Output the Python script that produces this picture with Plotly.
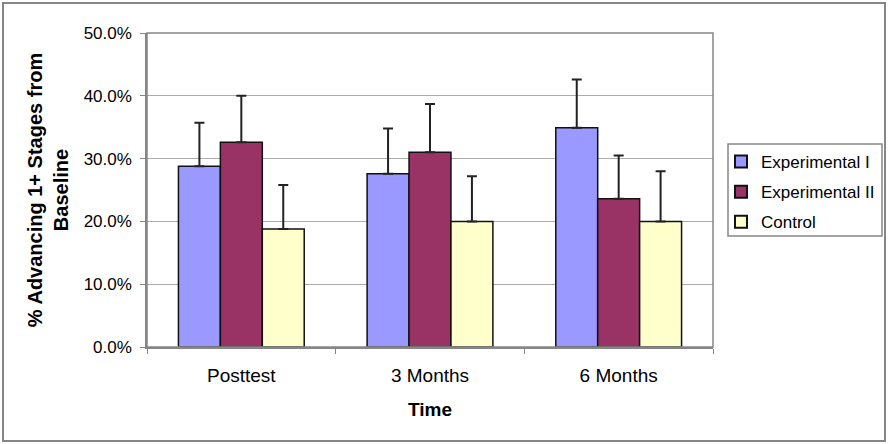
import plotly.graph_objects as go

categories = ["Posttest", "3 Months", "6 Months"]
series_names = ["Experimental I", "Experimental II", "Control"]
exp1_values = [0.288, 0.276, 0.349]
exp2_values = [0.326, 0.310, 0.236]
control_values = [0.188, 0.200, 0.200]
exp1_err = [0.069, 0.072, 0.077]
exp2_err = [0.074, 0.077, 0.069]
control_err = [0.070, 0.072, 0.080]
colors = ["#9999FF", "#993366", "#FFFFCC"]
y_ticks = [0.0, 0.1, 0.2, 0.3, 0.4, 0.5]

W, H = 888, 444
L, R, T, B = 147, 175, 33, 97
pw, ph = W - L - R, H - T - B

FONT = "Liberation Sans, Arial, sans-serif"


def px_x(x):
    return (x - L) / pw


def px_y(y):
    return (H - B - y) / ph


fig = go.Figure()
for name, vals, errs, col in zip(series_names,
                                 [exp1_values, exp2_values, control_values],
                                 [exp1_err, exp2_err, control_err], colors):
    fig.add_trace(go.Bar(
        name=name, x=categories, y=vals, legendgroup=name,
        marker=dict(color=col, line=dict(color="#111111", width=1.5)),
        error_y=dict(type="data", symmetric=False, array=errs,
                     arrayminus=[0] * len(errs), color="#222222",
                     thickness=2, width=5),
    ))

gray = "#868686"
fig.update_layout(
    width=W, height=H,
    margin=dict(l=L, r=R, t=T, b=B, autoexpand=False),
    paper_bgcolor="white", plot_bgcolor="white",
    barmode="group", bargap=1/3, bargroupgap=0,
    font=dict(family=FONT, color="#000000"),
    showlegend=True,
    legend=dict(x=px_x(721), y=px_y(144), xanchor="left", yanchor="top",
                font=dict(size=17, family=FONT), borderwidth=0,
                bgcolor="rgba(0,0,0,0)", tracegroupgap=5, traceorder="grouped",
                itemsizing="constant"),
    xaxis=dict(
        showgrid=False, showline=True, linecolor=gray, linewidth=1.5,
        ticks="outside", ticklen=5, tickcolor=gray, tickson="boundaries",
        tickfont=dict(size=19, family=FONT), ticklabelstandoff=10,
        title=dict(text="<b>Time</b>", font=dict(size=19, family=FONT), standoff=18),
        mirror=False,
    ),
    yaxis=dict(
        range=[0, 0.5], tickvals=y_ticks, tickformat=".1%",
        showgrid=True, gridcolor="#ababab", gridwidth=1,
        showline=True, linecolor=gray, linewidth=1.5,
        ticks="outside", ticklen=5, tickcolor=gray,
        tickfont=dict(size=17, family=FONT), ticklabelstandoff=5,
        title=dict(text="<b>% Advancing 1+ Stages from<br>Baseline</b>",
                   font=dict(size=20, family=FONT), standoff=10),
        zeroline=False,
    ),
    shapes=[
        dict(type="rect", xref="paper", yref="paper", x0=0, x1=1, y0=0, y1=1,
             line=dict(color=gray, width=1.5), fillcolor="rgba(0,0,0,0)", layer="above"),
        dict(type="rect", xref="paper", yref="paper",
             x0=px_x(728), x1=px_x(882), y0=px_y(236), y1=px_y(144),
             line=dict(color=gray, width=1.5), fillcolor="white", layer="below"),
        dict(type="rect", xref="paper", yref="paper",
             x0=px_x(3), x1=px_x(885), y0=px_y(441), y1=px_y(3),
             line=dict(color=gray, width=2), fillcolor="rgba(0,0,0,0)", layer="above"),
    ],
)

fig.write_html("out.html", config={"displayModeBar": False},
               post_script="document.body.style.margin='0px';")
